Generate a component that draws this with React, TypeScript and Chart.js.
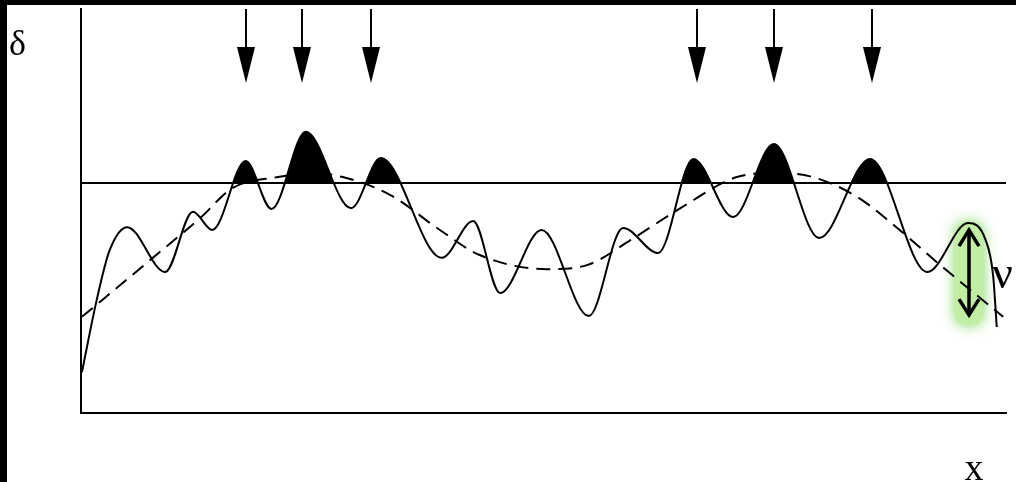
import React, { useEffect, useRef } from "react";
import { Chart, registerables } from "chart.js";

Chart.register(...registerables);

// ---- data (abstract units: x 0..100, y 0..100) ----
const X_MIN = 0;
const X_MAX = 100;
const Y_MIN = 0;
const Y_MAX = 100;

const signalX = [
  0.1, 1.7, 3.1, 5.0, 9.1, 12.1, 14.2, 17.8, 20.6, 24.3, 29.2, 32.4, 39.0, 42.4,
  45.3, 49.8, 54.9, 58.6, 62.4, 66.2, 70.5, 74.9, 79.8, 85.3, 91.5, 95.9, 97.8,
  98.6, 99.0,
];
const signalY = [
  10.1, 28.0, 40.3, 46.0, 34.9, 49.8, 45.3, 62.4, 50.5, 69.6, 50.7, 63.1, 38.4,
  47.5, 29.7, 45.3, 24.0, 45.8, 39.6, 62.9, 48.5, 66.6, 43.3, 62.9, 34.9, 47.0,
  42.8, 34.2, 21.3,
];

const trendX = [
  0.1, 7.5, 12.9, 16.4, 21.3, 24.8, 28.3, 33.4, 38.8, 43.1, 50.4, 54.7, 59.4,
  64.8, 70.9, 75.0, 79.1, 83.9, 88.5, 92.9, 99.7,
];
const trendY = [
  23.8, 37.9, 48.3, 55.7, 58.4, 59.4, 58.4, 54.0, 45.3, 39.1, 35.6, 36.6, 42.8,
  50.7, 58.4, 59.4, 58.4, 53.5, 45.3, 36.6, 23.8,
];

const THRESHOLD = 56.9;

const peakArrowX = [17.8, 23.9, 31.35, 66.6, 74.9, 85.5];
const ARROW_TOP = 100;
const ARROW_HEAD_BASE = 90.6;
const ARROW_TIP = 81.7;

const NU_X = 96.0;
const NU_TOP = 46.0;
const NU_BOTTOM = 23.5;

const LABEL_Y = "δ";
const LABEL_X = "x";
const LABEL_NU = "ν";

const SERIF = '"Liberation Serif", "DejaVu Serif", serif';

function toPoints(xs: number[], ys: number[]) {
  return xs.map((x, i) => ({ x, y: ys[i] }));
}

const framePlugin = {
  id: "frame",
  beforeDraw(chart: any) {
    const { ctx, width, height } = chart;
    ctx.save();
    ctx.fillStyle = "#ffffff";
    ctx.fillRect(0, 0, width, height);
    ctx.fillStyle = "#000000";
    ctx.fillRect(0, 0, 7, height);
    ctx.fillRect(0, 0, width, 5);
    ctx.restore();
  },
};

const glowPlugin = {
  id: "glow",
  beforeDatasetsDraw(chart: any) {
    const { ctx } = chart;
    const xs = chart.scales.x;
    const ys = chart.scales.y;
    const px = xs.getPixelForValue(NU_X);
    const top = ys.getPixelForValue(NU_TOP);
    const bottom = ys.getPixelForValue(NU_BOTTOM);
    ctx.save();
    ctx.shadowColor = "rgba(110,210,70,0.95)";
    ctx.shadowBlur = 14;
    ctx.fillStyle = "rgba(195,238,165,0.95)";
    const w = 28;
    const x0 = px - w / 2;
    const y0 = top - 5;
    const h = bottom - top + 12;
    const r = 12;
    ctx.beginPath();
    ctx.moveTo(x0 + r, y0);
    ctx.lineTo(x0 + w - r, y0);
    ctx.quadraticCurveTo(x0 + w, y0, x0 + w, y0 + r);
    ctx.lineTo(x0 + w, y0 + h - r);
    ctx.quadraticCurveTo(x0 + w, y0 + h, x0 + w - r, y0 + h);
    ctx.lineTo(x0 + r, y0 + h);
    ctx.quadraticCurveTo(x0, y0 + h, x0, y0 + h - r);
    ctx.lineTo(x0, y0 + r);
    ctx.quadraticCurveTo(x0, y0, x0 + r, y0);
    ctx.closePath();
    ctx.fill();
    ctx.restore();
  },
};

const arrowsPlugin = {
  id: "arrows",
  afterDatasetsDraw(chart: any) {
    const { ctx } = chart;
    const xs = chart.scales.x;
    const ys = chart.scales.y;
    ctx.save();
    ctx.strokeStyle = "#000";
    ctx.fillStyle = "#000";
    // peak arrows
    const yTop = ys.getPixelForValue(ARROW_TOP);
    const yBase = ys.getPixelForValue(ARROW_HEAD_BASE);
    const yTip = ys.getPixelForValue(ARROW_TIP);
    peakArrowX.forEach((v) => {
      const px = Math.round(xs.getPixelForValue(v));
      ctx.lineWidth = 2;
      ctx.beginPath();
      ctx.moveTo(px, yTop);
      ctx.lineTo(px, yBase + 1);
      ctx.stroke();
      ctx.beginPath();
      ctx.moveTo(px - 9, yBase);
      ctx.lineTo(px + 9, yBase);
      ctx.lineTo(px, yTip);
      ctx.closePath();
      ctx.fill();
    });
    // double arrow (nu)
    const nx = xs.getPixelForValue(NU_X);
    const nTop = ys.getPixelForValue(NU_TOP);
    const nBot = ys.getPixelForValue(NU_BOTTOM);
    ctx.lineWidth = 3.5;
    ctx.lineJoin = "miter";
    ctx.beginPath();
    ctx.moveTo(nx, nTop + 3);
    ctx.lineTo(nx, nBot - 3);
    ctx.stroke();
    ctx.beginPath();
    ctx.moveTo(nx - 10, nTop + 19);
    ctx.lineTo(nx, nTop + 3);
    ctx.lineTo(nx + 10, nTop + 19);
    ctx.stroke();
    ctx.beginPath();
    ctx.moveTo(nx - 10, nBot - 19);
    ctx.lineTo(nx, nBot - 3);
    ctx.lineTo(nx + 10, nBot - 19);
    ctx.stroke();

    // labels
    ctx.fillStyle = "#000";
    ctx.textBaseline = "alphabetic";
    ctx.textAlign = "left";
    ctx.font = `36px ${SERIF}`;
    ctx.fillText(LABEL_Y, 9, 55);
    ctx.textAlign = "center";
    ctx.font = `38px ${SERIF}`;
    ctx.fillText(LABEL_X, 974, 480);
    ctx.textAlign = "left";
    ctx.font = `46px ${SERIF}`;
    ctx.fillText(LABEL_NU, nx + 23, ys.getPixelForValue(NU_TOP) + 61);
    ctx.restore();
  },
};

export default function App() {
  const canvasRef = useRef<HTMLCanvasElement | null>(null);

  useEffect(() => {
    document.body.style.margin = "0";
    const canvas = canvasRef.current;
    if (!canvas) return;
    const chart = new Chart(canvas, {
      type: "line",
      data: {
        datasets: [
          {
            label: "threshold",
            data: [
              { x: X_MIN, y: THRESHOLD },
              { x: X_MAX, y: THRESHOLD },
            ],
            borderColor: "#000",
            borderWidth: 2,
            pointRadius: 0,
            fill: false,
            order: 3,
          },
          {
            label: "trend",
            data: toPoints(trendX, trendY),
            borderColor: "#000",
            borderWidth: 2,
            borderDash: [14, 8],
            pointRadius: 0,
            cubicInterpolationMode: "monotone",
            fill: false,
            order: 2,
          },
          {
            label: "signal",
            data: toPoints(signalX, signalY),
            borderColor: "#000",
            borderWidth: 2,
            pointRadius: 0,
            cubicInterpolationMode: "monotone",
            fill: {
              target: { value: THRESHOLD },
              above: "#000",
              below: "rgba(0,0,0,0)",
            },
            order: 1,
          },
        ],
      },
      options: {
        animation: false,
        responsive: false,
        layout: { padding: { left: 81, top: 9, right: 10, bottom: 69 } },
        plugins: {
          legend: { display: false },
          tooltip: { enabled: false },
        },
        scales: {
          x: {
            type: "linear",
            min: X_MIN,
            max: X_MAX,
            grid: { display: false, drawTicks: false },
            ticks: { display: false },
            border: { display: true, color: "#000", width: 2 },
          },
          y: {
            type: "linear",
            min: Y_MIN,
            max: Y_MAX,
            grid: { display: false, drawTicks: false },
            ticks: { display: false },
            border: { display: true, color: "#000", width: 2 },
          },
        },
      },
      plugins: [framePlugin, glowPlugin, arrowsPlugin],
    });
    return () => chart.destroy();
  }, []);

  return (
    <div style={{ width: 1016, height: 482, position: "relative" }}>
      <canvas ref={canvasRef} width={1016} height={482} style={{ display: "block" }} />
    </div>
  );
}
